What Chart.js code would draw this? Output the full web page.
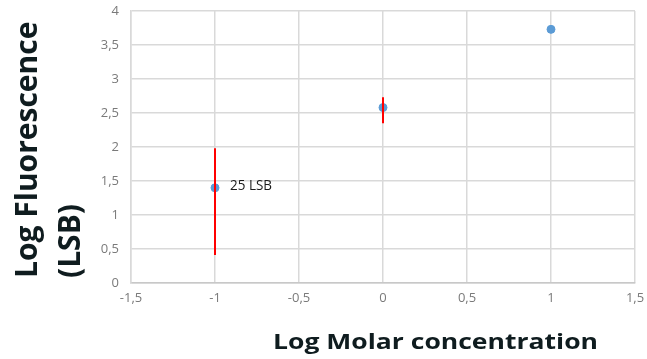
<!DOCTYPE html>
<html>
<head>
<meta charset="utf-8">
<script src="https://cdn.jsdelivr.net/npm/chart.js@4.4.1/dist/chart.umd.min.js"></script>
<style>
  html, body { margin: 0; padding: 0; background: #fff; }
  #wrap { width: 647px; height: 359px; }
</style>
</head>
<body>
<div id="wrap"><canvas id="myChart" width="647" height="359"></canvas></div>
<script>
// data
const logConc = [-1, 0, 1];
const logFluo = [1.4, 2.58, 3.73];
const errLow = [0.41, 2.35, null];
const errHigh = [1.98, 2.73, null];
const pointLabels = ['25 LSB', '', ''];

const xTicks = [-1.5, -1, -0.5, 0, 0.5, 1, 1.5];
const yTicks = [0, 0.5, 1, 1.5, 2, 2.5, 3, 3.5, 4];

const fmt = (v) => String(v).replace('.', ',');

// one small line dataset per error bar
const errorSets = logConc
  .map((x, i) => ({ x, lo: errLow[i], hi: errHigh[i] }))
  .filter((e) => e.lo !== null)
  .map((e) => ({
    type: 'line',
    data: [{ x: e.x, y: e.lo }, { x: e.x, y: e.hi }],
    borderColor: '#ff0000',
    borderWidth: 2,
    pointRadius: 0,
    fill: false,
  }));

const titles = {
  id: 'titles',
  afterDraw(chart) {
    const ctx = chart.ctx;
    ctx.save();
    ctx.fillStyle = '#0f1c1f';
    // y title, two lines, left aligned (reads bottom to top)
    ctx.font = 'bold 30px "Open Sans"';
    ctx.translate(0, 278);
    ctx.rotate(-Math.PI / 2);
    ctx.textAlign = 'left';
    ctx.textBaseline = 'alphabetic';
    ctx.fillText('Log Fluorescence', 0, 37);
    ctx.fillText('(LSB)', 0, 80);
    ctx.restore();

    // x title, a little wider than the font
    ctx.save();
    ctx.fillStyle = '#0f1c1f';
    ctx.font = 'bold 22px "Open Sans"';
    const txt = 'Log Molar concentration';
    const w = ctx.measureText(txt).width;
    ctx.translate(273, 349);
    ctx.scale(325 / w, 1);
    ctx.textAlign = 'left';
    ctx.fillText(txt, 0, 0);
    ctx.restore();

    // point label
    const xs = chart.scales.x, ys = chart.scales.y;
    ctx.save();
    ctx.fillStyle = '#1a1a1a';
    ctx.font = '15px "Open Sans"';
    ctx.textBaseline = 'middle';
    pointLabels.forEach((t, i) => {
      if (!t) return;
      const lw = ctx.measureText(t).width;
      ctx.save();
      ctx.translate(xs.getPixelForValue(logConc[i]) + 15, ys.getPixelForValue(logFluo[i]) - 2);
      ctx.scale(42 / lw, 1);
      ctx.fillText(t, 0, 0);
      ctx.restore();
    });
    ctx.restore();
  }
};

new Chart(document.getElementById('myChart').getContext('2d'), {
  type: 'scatter',
  data: {
    datasets: [
      ...errorSets,
      {
        type: 'scatter',
        data: logConc.map((x, i) => ({ x, y: logFluo[i] })),
        backgroundColor: '#5b9bd5',
        borderColor: '#5b9bd5',
        pointRadius: 4,
        pointHoverRadius: 4,
      },
    ],
  },
  options: {
    responsive: false,
    animation: false,
    events: [],
    layout: { autoPadding: false, padding: { left: 0, right: 12, top: 11, bottom: 0 } },
    plugins: { legend: { display: false }, tooltip: { enabled: false } },
    scales: {
      x: {
        type: 'linear',
        min: -1.5,
        max: 1.5,
        afterBuildTicks: (s) => { s.ticks = xTicks.map((v) => ({ value: v })); },
        afterFit: (s) => { s.height = 76; s.paddingLeft = 0; s.paddingRight = 0; },
        ticks: {
          callback: (v) => fmt(v),
          color: '#7a7a7a',
          font: { family: '"Open Sans"', size: 13 },
          padding: 7,
          maxRotation: 0,
        },
        grid: { color: '#d9d9d9', lineWidth: 1.5, drawTicks: false },
        border: { color: '#c8c8c8', width: 1.5 },
      },
      y: {
        type: 'linear',
        min: 0,
        max: 4,
        afterBuildTicks: (s) => { s.ticks = yTicks.map((v) => ({ value: v })); },
        afterFit: (s) => { s.width = 131; s.paddingTop = 0; s.paddingBottom = 0; },
        ticks: {
          callback: (v) => fmt(v),
          color: '#7a7a7a',
          font: { family: '"Open Sans"', size: 13 },
          padding: 12,
        },
        grid: { color: '#d9d9d9', lineWidth: 1.5, drawTicks: false },
        border: { color: '#d9d9d9', width: 1.5 },
      },
    },
  },
  plugins: [titles],
});
</script>
</body>
</html>
